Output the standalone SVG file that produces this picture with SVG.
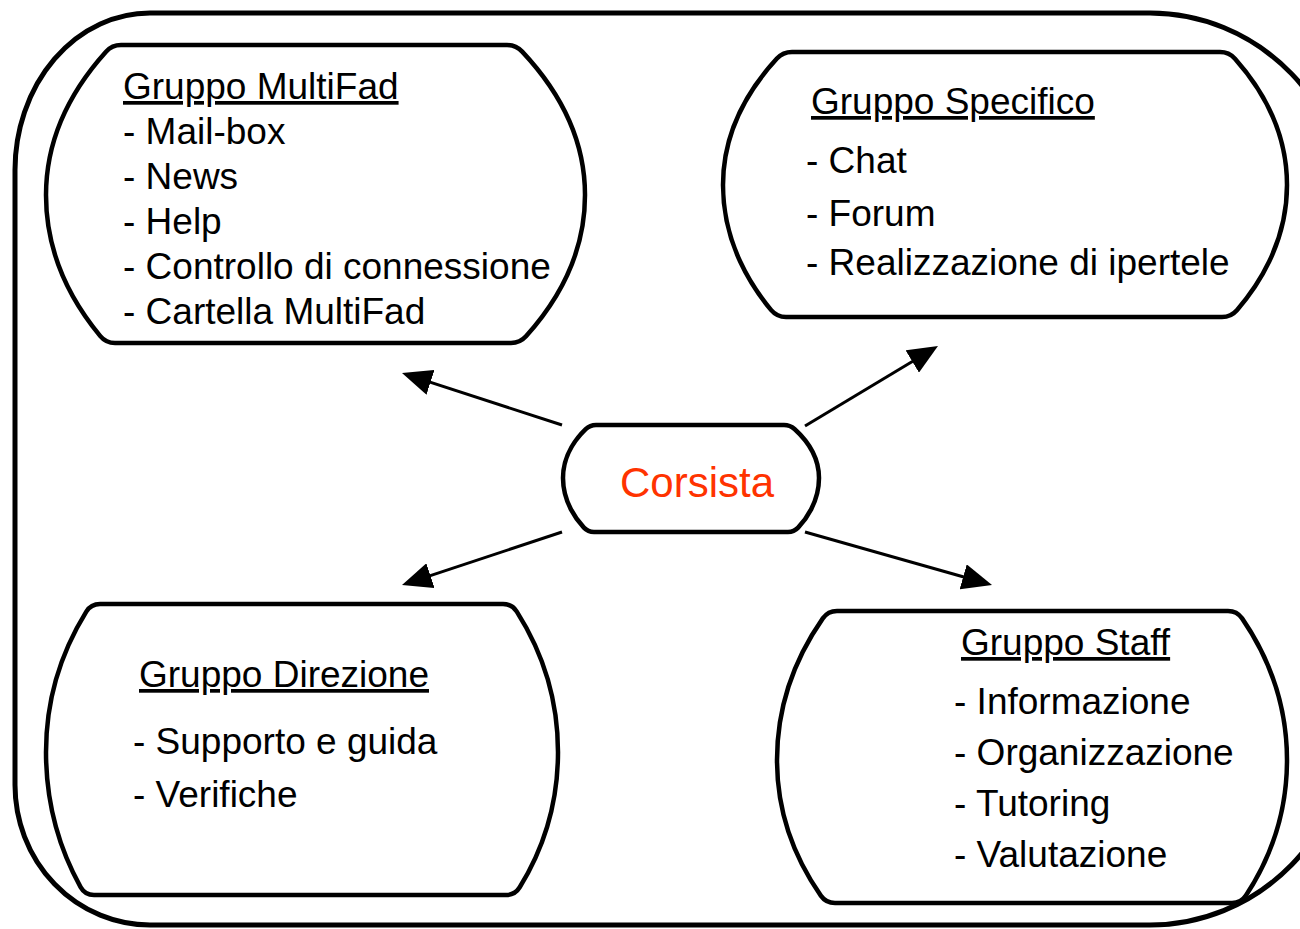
<svg xmlns="http://www.w3.org/2000/svg" width="1300" height="929" viewBox="0 0 1300 929">
<style>
.shape{fill:#fff;stroke:#000;stroke-width:4.5;stroke-linejoin:round}
.frame{fill:none;stroke:#000;stroke-width:5}
.t{font-family:"Liberation Sans",Arial,sans-serif;font-size:37px;fill:#000}
.h{text-decoration:underline}
.c{font-family:"Liberation Sans",Arial,sans-serif;font-size:42px;fill:#FF3300}
.conn{stroke:#000;stroke-width:3;fill:none}
</style>
<defs>
<marker id="arr" viewBox="0 0 30 26" refX="20" refY="13" markerWidth="30" markerHeight="26" markerUnits="userSpaceOnUse" orient="auto">
<path d="M0,0 L30,13 L0,26 Z" fill="#000"/>
</marker>
</defs>
<rect width="1300" height="929" fill="#fff"/>
<path class="frame" d="M150,13 L1150,13 A200,207 0 0 1 1350,220 L1350,720 A200,205 0 0 1 1150,925 L150,925 A135,140 0 0 1 15,785 L15,170 A135,157 0 0 1 150,13 Z"/>
<g id="connectors">
<line class="conn" x1="562" y1="425" x2="411.5" y2="376.1" marker-end="url(#arr)"/>
<line class="conn" x1="805" y1="426" x2="929.4" y2="351.2" marker-end="url(#arr)"/>
<line class="conn" x1="562" y1="532" x2="411.5" y2="581.9" marker-end="url(#arr)"/>
<line class="conn" x1="805" y1="532" x2="982.4" y2="582.3" marker-end="url(#arr)"/>
</g>
<g id="multifad">
<path class="shape" d="M121,45 L507,45 Q516,45 522.2,51.6 C547,78 585,127.5 585,195 C585,261.6 549.3,310.4 526,336.3 Q520,343 511,343 L115,343 Q106,343 100.3,336.1 C79,310.4 46,261.6 46,195 C46,127.5 82.3,78 106,51.7 Q112,45 121,45 Z"/>
<text class="t h" x="123" y="99">Gruppo MultiFad</text>
<text class="t" x="123" y="144">- Mail-box</text>
<text class="t" x="123" y="189">- News</text>
<text class="t" x="123" y="234">- Help</text>
<text class="t" x="123" y="279">- Controllo di connessione</text>
<text class="t" x="123" y="324">- Cartella MultiFad</text>
</g>
<g id="specifico">
<path class="shape" d="M792,52 L1220,52 Q1229,52 1235,58.7 C1255.1,81.3 1287,125.1 1287,185 C1287,244.4 1256.2,288 1236.9,310.2 Q1231,317 1222,317 L786,317 Q777,317 771.2,310.1 C752.7,288 723,244.4 723,185 C723,125.1 756,81.3 776.9,58.6 Q783,52 792,52 Z"/>
<text class="t h" x="811" y="114">Gruppo Specifico</text>
<text class="t" x="806" y="173">- Chat</text>
<text class="t" x="806" y="226">- Forum</text>
<text class="t" x="806" y="275">- Realizzazione di ipertele</text>
</g>
<g id="corsista">
<path class="shape" d="M596,425 L784,425 Q790,425 794.5,429 C803,436.7 819,454.1 819,478 C819,502.3 805.3,520.1 798.1,527.6 Q794,532 788,532 L594,532 Q588,532 583.9,527.6 C576.8,520.1 563,502.3 563,478 C563,454.1 577.9,436.7 585.7,429.2 Q590,425 596,425 Z"/>
<text class="c" x="620" y="497">Corsista</text>
</g>
<g id="direzione">
<path class="shape" d="M100,604 L503,604 Q512,604 516.8,611.6 C532.7,636.6 558,685.4 558,752 C558,816.4 534.4,863.5 519.7,887.3 Q515,895 506,895 L94,895 Q85,895 80.6,887.1 C67.5,863.5 46,816.4 46,752 C46,685.4 70.8,636.6 86.3,611.6 Q91,604 100,604 Z"/>
<text class="t h" x="139" y="687">Gruppo Direzione</text>
<text class="t" x="133" y="754">- Supporto e guida</text>
<text class="t" x="133" y="807">- Verifiche</text>
</g>
<g id="staff">
<path class="shape" d="M837,611 L1228,611 Q1237,611 1242.1,618.4 C1259.5,643.8 1287,693 1287,760 C1287,824.4 1261.7,871.5 1245.9,895.5 Q1241,903 1232,903 L835,903 Q826,903 820.8,895.6 C804,871.5 777,824.4 777,760 C777,693 805.1,643.8 822.8,618.4 Q828,611 837,611 Z"/>
<text class="t h" x="961" y="655">Gruppo Staff</text>
<text class="t" x="954" y="714">- Informazione</text>
<text class="t" x="954" y="765">- Organizzazione</text>
<text class="t" x="954" y="816">- Tutoring</text>
<text class="t" x="954" y="867">- Valutazione</text>
</g>
</svg>
